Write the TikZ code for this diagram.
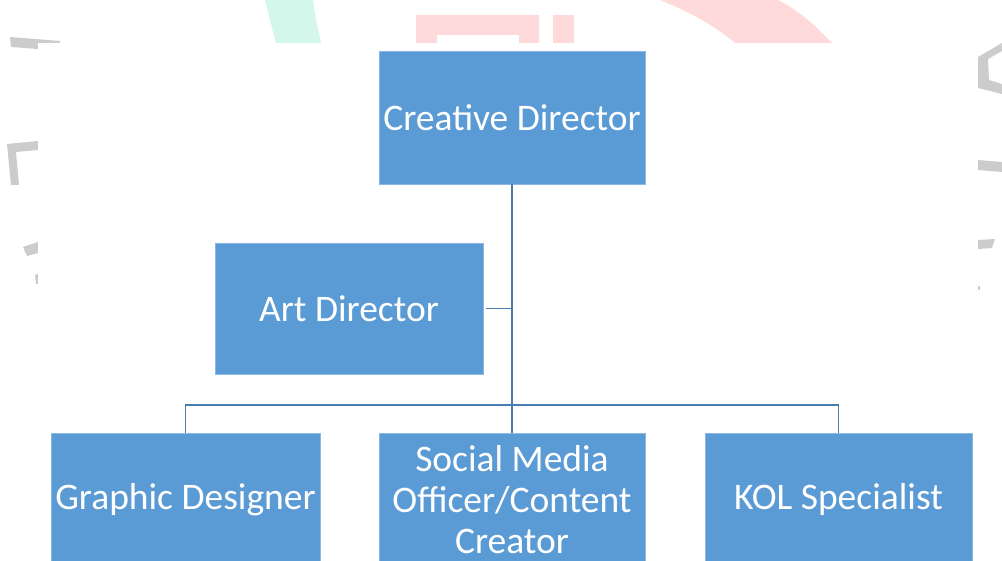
\documentclass[tikz,border=0pt]{standalone}
\usepackage{fontspec}
\setmainfont{Carlito}
\definecolor{boxblue}{HTML}{5B9BD5}
\definecolor{boxedge}{HTML}{8DB6E2}
\definecolor{linkblue}{HTML}{4A7DAE}
\definecolor{wmgreen}{HTML}{D3F7EA}
\definecolor{wmpink}{HTML}{FFDADB}
\definecolor{wmgray}{HTML}{CCCCCC}
\begin{document}
\begin{tikzpicture}[x=1pt,y=-1pt,
  orgbox/.style={rectangle,fill=boxblue,draw=boxedge,line width=0.8pt,
    text=white,align=center,inner sep=0pt,
    font=\fontsize{37.5}{41}\selectfont},
  link/.style={draw=linkblue,line width=1.4pt}]
\useasboundingbox (0,0) rectangle (1002,561);
\fill[white] (0,0) rectangle (1002,561);
% watermark fragments
\fill[wmgreen] (265,0) -- (313,0) .. controls (315,15) .. (321,43) -- (276,43) .. controls (270,20) .. (265,0) -- cycle;
\fill[wmpink] (416,15) -- (539,15) -- (539,43) -- (519,43) -- (519,35) -- (437,35) -- (437,43) -- (416,43) -- cycle;
\fill[wmpink] (553,15) rectangle (574,43);
\fill[wmpink] (660,0) .. controls (690,12) and (715,26) .. (735,43) -- (832,43) .. controls (815,25) and (798,10) .. (778,0) -- cycle;
\fill[wmgray] (10,37) -- (60,41) -- (60,44) -- (38,44) -- (38,49) -- (11,47) -- cycle;
\fill[wmgray] (7,144) -- (38,141) -- (38,150) -- (16,152) -- (19,185) -- (11,185) -- cycle;
\fill[wmgray] (23,247) -- (38,242) -- (38,253) -- (27,256) -- cycle;
\fill[wmgray] (35,275) -- (38,274) -- (38,284) -- (36,284) -- cycle;
\fill[wmgray] (978,57) -- (1002,43) -- (1002,51) -- (988,59) -- (989,80) -- (1002,84) -- (1002,94) -- (978,88) -- cycle;
\fill[wmgray] (978,160) -- (1002,162) -- (1002,172) -- (978,170) -- cycle;
\fill[wmgray] (978,240) -- (995,239) -- (992,248) -- (978,249) -- cycle;
\fill[wmgray] (978,286) rectangle (980,290);
\fill[white] (38,43) rectangle (978,561);
% boxes
\node[orgbox,minimum width=266pt,minimum height=133pt] (cd) at (512,117.5) {Creative Director};
\node[orgbox,minimum width=268pt,minimum height=131pt] (ad) at (349,308.5) {Art Director};
\node[orgbox,minimum width=269pt,minimum height=133pt] (gd) at (185.5,499.5) {Graphic Designer};
\node[orgbox,minimum width=266pt,minimum height=133pt] (sm) at (512,499.5) {Social Media\\Officer/Content\\Creator};
\node[orgbox,minimum width=267pt,minimum height=133pt] (kol) at (838.5,499.5) {KOL Specialist};
% connectors
\coordinate (bar) at (512,405);
\draw[link] (cd.south) -- (sm.north);
\draw[link] ([xshift=3pt]ad.east) -- (ad.east -| cd.south);
\draw[link] (gd.north) |- (bar) -| (kol.north);
\end{tikzpicture}
\end{document}
